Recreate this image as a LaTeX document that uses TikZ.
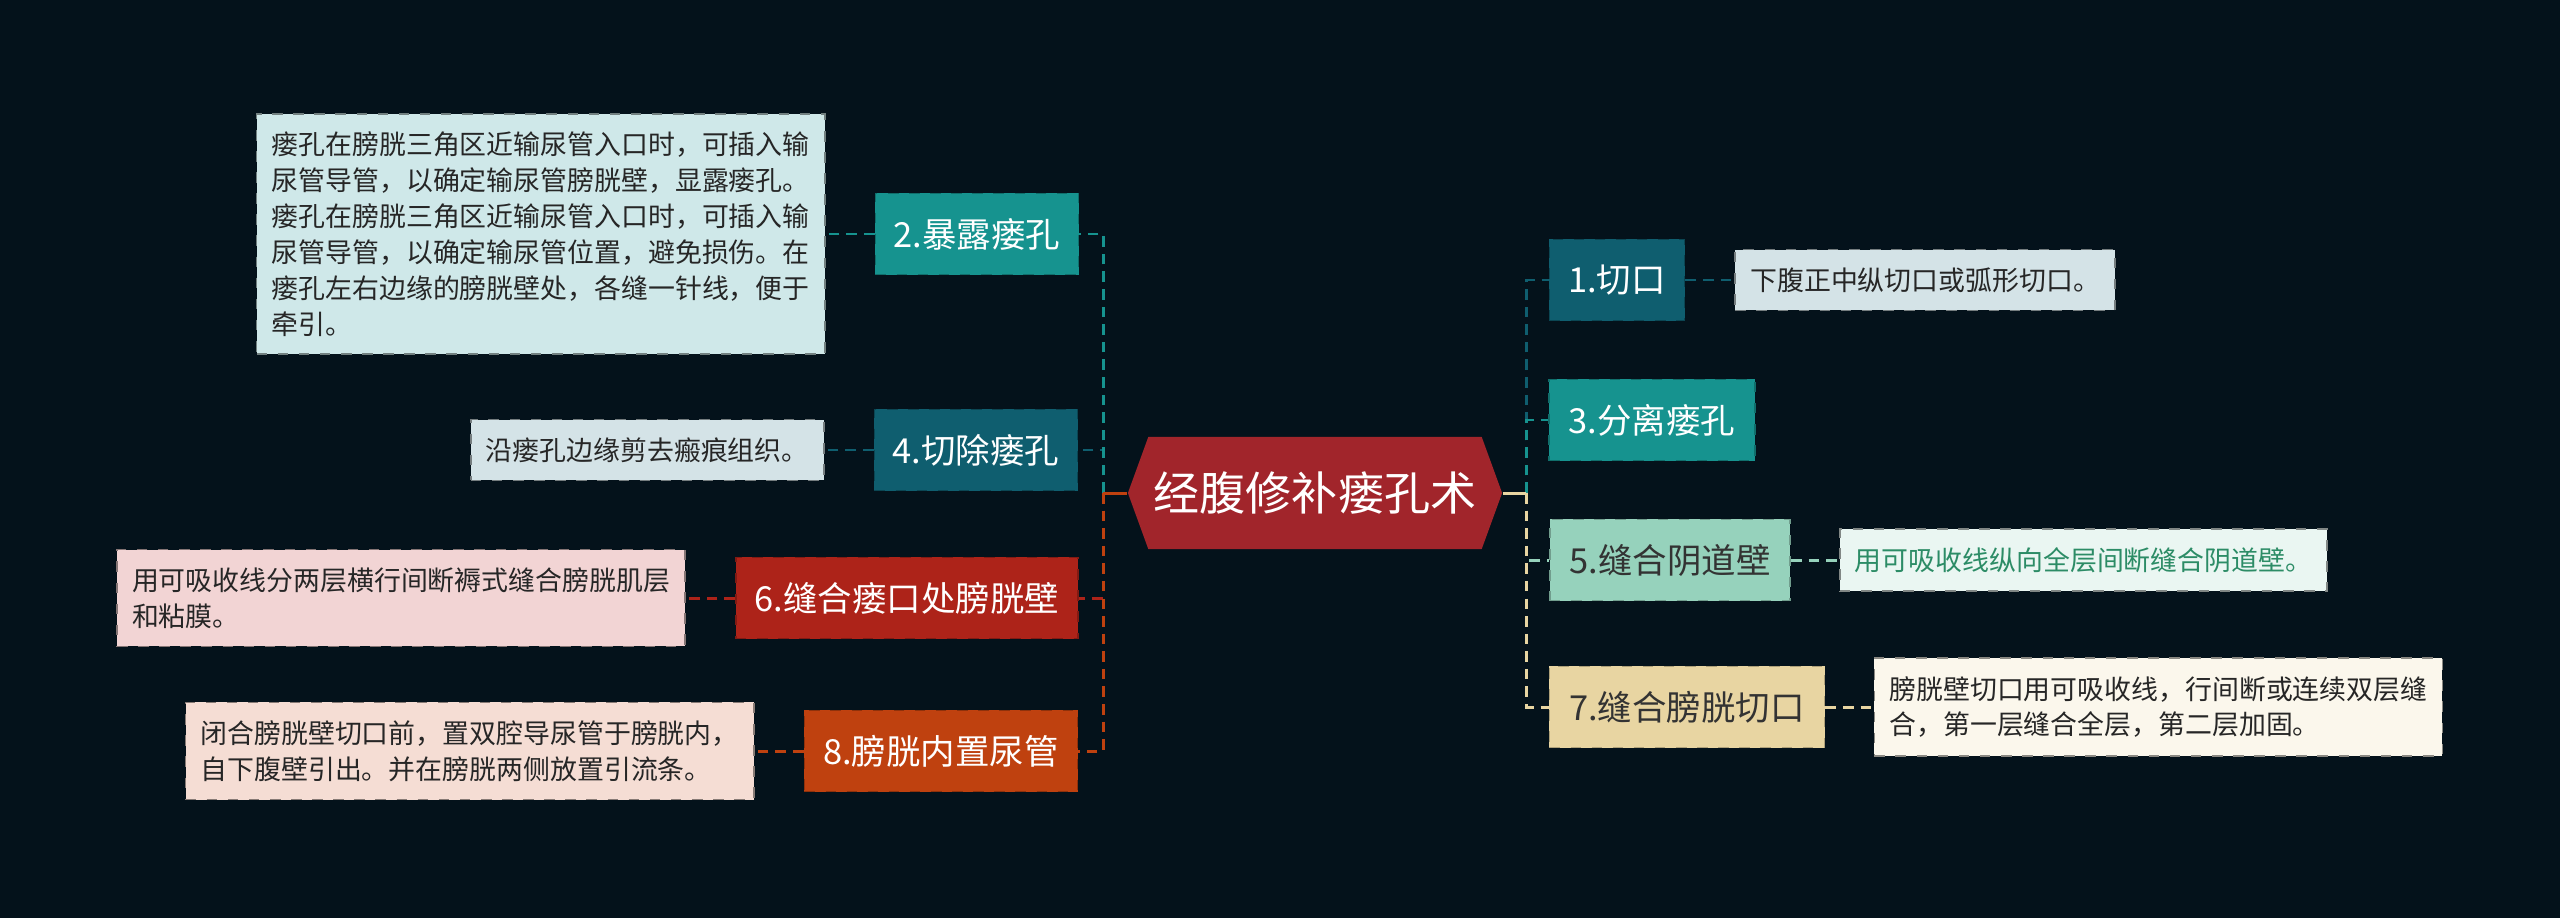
\documentclass[tikz,border=0pt]{standalone}
\usepackage{fontspec}
\usepackage{xcolor}
\setmainfont{Noto Sans CJK SC}
\usetikzlibrary{positioning,shapes.symbols}

\definecolor{fondo}{HTML}{04121B}
\definecolor{raiz}{HTML}{A1252B}
\definecolor{azul}{HTML}{0F5E6F}
\definecolor{turq}{HTML}{16938F}
\definecolor{rojo}{HTML}{AD2319}
\definecolor{naranja}{HTML}{BF410F}
\definecolor{menta}{HTML}{96D2BC}
\definecolor{arena}{HTML}{E8D5A2}
\definecolor{notaturq}{HTML}{CFE8E9}
\definecolor{notaazul}{HTML}{D4E3E7}
\definecolor{notarojo}{HTML}{F2D4D4}
\definecolor{notanar}{HTML}{F5DDD4}
\definecolor{notamenta}{HTML}{EAF6F2}
\definecolor{notaarena}{HTML}{FBF7EC}
\definecolor{textoverde}{HTML}{2C8C66}

\tikzset{
    rama/.style={fill=#1, draw=#1!75!black, dashed, line width=0.5pt,
        text=white, font=\fontsize{9.8}{12}\selectfont,
        minimum height=0.81cm, inner sep=0pt},
    nota/.style={fill=#1, draw=#1!55!black, dashed, line width=0.5pt,
        text=black!85, font=\fontsize{7.65}{10.2}\selectfont, align=left,
        inner xsep=0.15cm, inner ysep=0.18cm},
    enlace/.style={draw=#1, line width=0.85pt, dash pattern=on 3pt off 2pt},
}

\begin{document}
\begin{tikzpicture}[x=0.01cm, y=-0.01cm]

    % fondo
    \fill[fondo] (0,0) rectangle (2560,918);
    \useasboundingbox (0,0) rectangle (2560,918);

    % nodo central
    \node[shape=signal, signal to=east and west, signal pointer angle=140,
        fill=raiz, text=white, font=\fontsize{13.1}{15}\selectfont,
        minimum width=3.74cm, minimum height=1.12cm, inner sep=0pt]
        (r) at (1315,493) {经腹修补瘘孔术};

    % ramas izquierda
    \node[rama=turq, minimum width=2.03cm] (b2) at (977,234) {2.暴露瘘孔};
    \node[rama=azul, minimum width=2.03cm] (b4) at (976,450) {4.切除瘘孔};
    \node[rama=rojo, minimum width=3.42cm] (b6) at (907,598) {6.缝合瘘口处膀胱壁};
    \node[rama=naranja, minimum width=2.73cm] (b8) at (941,751) {8.膀胱内置尿管};

    % ramas derecha
    \node[rama=azul, minimum width=1.35cm] (b1) at (1617,280) {1.切口};
    \node[rama=turq, minimum width=2.06cm] (b3) at (1652,420) {3.分离瘘孔};
    \node[rama=menta, text=black!80, minimum width=2.40cm] (b5) at (1670,560) {5.缝合阴道壁};
    \node[rama=arena, text=black!80, minimum width=2.75cm] (b7) at (1687,707) {7.缝合膀胱切口};

    % notas
    \node[nota=notaturq, left=0.49cm of b2] (t2) {瘘孔在膀胱三角区近输尿管入口时，可插入输\\
        尿管导管，以确定输尿管膀胱壁，显露瘘孔。\\
        瘘孔在膀胱三角区近输尿管入口时，可插入输\\
        尿管导管，以确定输尿管位置，避免损伤。在\\
        瘘孔左右边缘的膀胱壁处，各缝一针线，便于\\
        牵引。};
    \node[nota=notaazul, left=0.49cm of b4] (t4) {沿瘘孔边缘剪去瘢痕组织。};
    \node[nota=notarojo, left=0.49cm of b6] (t6) {用可吸收线分两层横行间断褥式缝合膀胱肌层\\
        和粘膜。};
    \node[nota=notanar, left=0.49cm of b8] (t8) {闭合膀胱壁切口前，置双腔导尿管于膀胱内，\\
        自下腹壁引出。并在膀胱两侧放置引流条。};
    \node[nota=notaazul, right=0.49cm of b1] (t1) {下腹正中纵切口或弧形切口。};
    \node[nota=notamenta, text=textoverde, right=0.48cm of b5] (t5) {用可吸收线纵向全层间断缝合阴道壁。};
    \node[nota=notaarena, right=0.48cm of b7] (t7) {膀胱壁切口用可吸收线，行间断或连续双层缝\\
        合，第一层缝合全层，第二层加固。};

    % conectores
    \coordinate (izq) at (1103,493);
    \coordinate (der) at (1526,493);

    \draw[enlace=azul] (izq) |- (b4.east);
    \draw[enlace=turq] (izq) |- (b2.east);
    \draw[enlace=rojo] (izq) |- (b6.east);
    \draw[enlace=naranja] (izq) |- (b8.east);
    \draw[naranja, line width=0.85pt] (r.west) -- (izq);

    \draw[enlace=azul] (der) |- (b1.west);
    \draw[enlace=turq] (der) |- (b3.west);
    \draw[enlace=menta] (der) |- (b5.west);
    \draw[enlace=arena] (der) |- (b7.west);
    \draw[arena, line width=0.85pt] (r.east) -- (der);

    \draw[enlace=turq] (b2) -- (t2);
    \draw[enlace=azul] (b4) -- (t4);
    \draw[enlace=rojo] (b6) -- (t6);
    \draw[enlace=naranja] (b8) -- (t8);
    \draw[enlace=azul] (b1) -- (t1);
    \draw[enlace=menta] (b5) -- (t5);
    \draw[enlace=arena] (b7) -- (t7);

\end{tikzpicture}
\end{document}
